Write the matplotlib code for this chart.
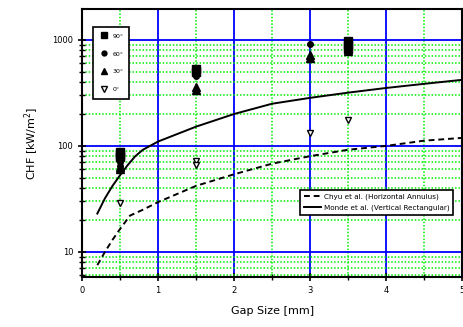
import numpy as np
import matplotlib
matplotlib.use('Agg')
import matplotlib.pyplot as plt
from matplotlib.ticker import LogLocator, MultipleLocator, NullFormatter
from matplotlib.lines import Line2D

# datos experimentales (gap [mm], CHF [kW/m2])
gap_90 = [0.5, 0.5, 0.5, 1.5, 1.5, 3.5, 3.5, 3.5]
chf_90 = [88, 82, 78, 530, 500, 980, 900, 820]
gap_60 = [0.5, 0.5, 1.5, 3.0, 3.5]
chf_60 = [70, 64, 460, 920, 870]
gap_30 = [0.5, 0.5, 1.5, 1.5, 3.0, 3.0, 3.5]
chf_30 = [63, 60, 360, 340, 720, 670, 780]
gap_0 = [0.5, 1.5, 1.5, 3.0, 3.5]
chf_0 = [29, 72, 66, 133, 175]

# correlaciones
chyu_x = [0.2, 0.3, 0.4, 0.5, 0.63, 0.8, 1.0, 1.5, 2.0, 2.5, 3.0, 3.5, 4.0, 4.5, 5.0]
chyu_y = [7.5, 10, 13, 16.5, 22, 25, 29.5, 42, 54, 68, 80, 92, 100, 112, 119]
monde_x = [0.2, 0.3, 0.4, 0.5, 0.6, 0.7, 0.8, 1.0, 1.5, 2.0, 2.5, 3.0, 3.5, 4.0, 4.5, 5.0]
monde_y = [23, 32, 42, 53, 66, 80, 92, 110, 152, 200, 250, 284, 318, 352, 385, 420]

fig = plt.figure(figsize=(4.64, 3.27), dpi=100)
ax = fig.add_axes([0.177, 0.153, 0.819, 0.819])

ax.set_yscale('log')
ax.set_xlim(0, 5)
ax.set_ylim(5.8, 1950)

ax.xaxis.set_major_locator(MultipleLocator(1))
ax.xaxis.set_minor_locator(MultipleLocator(0.5))
ax.yaxis.set_major_locator(LogLocator(base=10, numticks=10))
ax.yaxis.set_minor_locator(LogLocator(base=10, subs=np.arange(2, 10), numticks=20))
ax.yaxis.set_minor_formatter(NullFormatter())
ax.set_yticks([10, 100, 1000])
ax.set_yticklabels(['10', '100', '1000'])

ax.grid(which='major', color='blue', linewidth=1.3, linestyle='-')
ax.grid(which='minor', color='#00ee00', linewidth=1.1, linestyle=(0, (1, 1.2)))
ax.set_axisbelow(True)

ax.tick_params(which='major', direction='inout', length=6, width=1.2, labelsize=6, top=False, right=False)
ax.tick_params(which='minor', direction='inout', length=4, width=1.0, top=False, right=False)
for s in ax.spines.values():
    s.set_linewidth(1.5)

l1, = ax.plot(chyu_x, chyu_y, color='black', linestyle=(0, (3, 2)), linewidth=1.4)
l2, = ax.plot(monde_x, monde_y, color='black', linestyle='-', linewidth=1.4)

ax.plot(gap_90, chf_90, 's', color='black', markersize=6, linestyle='none')
ax.plot(gap_60, chf_60, 'o', color='black', markersize=4, markerfacecolor='black', linestyle='none')
ax.plot(gap_30, chf_30, '^', color='black', markersize=6, linestyle='none')
ax.plot(gap_0, chf_0, 'v', color='black', markerfacecolor='white', markersize=5, linestyle='none')

ax.set_xlabel('Gap Size [mm]', fontsize=8, labelpad=8)
ax.set_ylabel('CHF [kW/m$^2$]', fontsize=8, labelpad=8)

h1 = [Line2D([], [], marker='s', color='black', linestyle='none', markersize=5),
      Line2D([], [], marker='o', color='black', linestyle='none', markersize=3.5),
      Line2D([], [], marker='^', color='black', linestyle='none', markersize=5),
      Line2D([], [], marker='v', color='black', markerfacecolor='white', linestyle='none', markersize=5)]
leg1 = ax.legend(h1, ['90°', '60°', '30°', '0°'], loc='upper left', bbox_to_anchor=(0.02, 0.945),
                 fontsize=4.5, frameon=True, fancybox=False, edgecolor='black', framealpha=1,
                 handletextpad=0.5, labelspacing=2.0, borderpad=1.0, handlelength=1.6)
leg1.get_frame().set_linewidth(1.2)
ax.add_artist(leg1)

leg2 = ax.legend([l1, l2], ['Chyu et al. (Horizontal Annulus)', 'Monde et al. (Vertical Rectangular)'],
                 loc='upper right', bbox_to_anchor=(0.985, 0.34), fontsize=5.2, frameon=True,
                 fancybox=False, edgecolor='black', framealpha=1, handlelength=2.4,
                 handletextpad=0.3, labelspacing=0.7, borderpad=0.5)
leg2.get_frame().set_linewidth(1.2)

fig.savefig('out.png', dpi=100)
